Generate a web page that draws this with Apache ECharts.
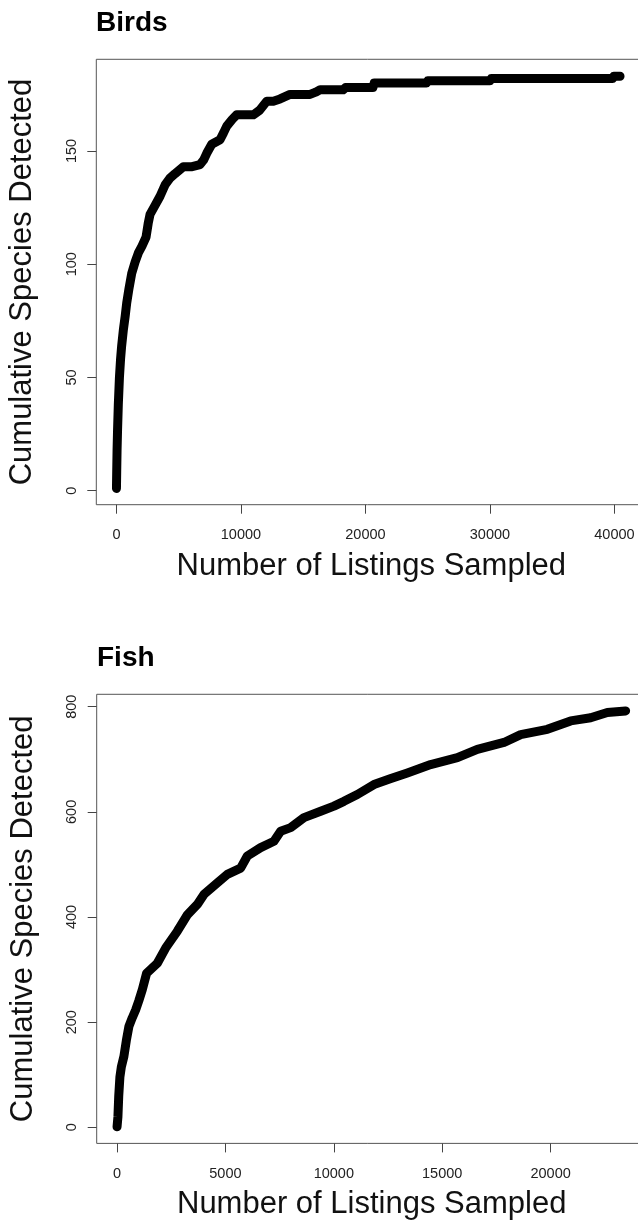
<!DOCTYPE html>
<html>
<head>
<meta charset="utf-8">
<script src="https://cdn.jsdelivr.net/npm/echarts@6/dist/echarts.min.js"></script>
<style>
html,body{margin:0;padding:0;background:#fff;}
#c{width:638px;height:1221px;}
</style>
</head>
<body>
<div id="c"></div>
<script>
// ---- Data ----
var panelTitles = ['Birds', 'Fish'];
var xTitle = 'Number of Listings Sampled';
var yTitle = 'Cumulative Species Detected';

var birdsX = [1, 20, 50, 90, 150, 240, 330, 420, 555, 700, 827, 1000, 1229, 1500, 1760, 2050, 2378, 2550, 2699, 3100, 3502, 3904, 4300, 4707, 5374, 6000, 6715, 7000, 7253, 7654, 8321, 8600, 8860, 9300, 9663, 10996, 11500, 12072, 12600, 13141, 13944, 15550, 16000, 16353, 18200, 18400, 20600, 20700, 24900, 25000, 30000, 30100, 39850, 39950, 40450];
var birdsY = [1, 8, 18, 27, 38, 50, 58, 64, 71, 77, 83, 89, 96, 101, 105, 108, 112, 118, 122, 126, 130, 135, 138, 140, 143, 143, 144, 146, 149, 153, 155, 158, 161, 164, 166, 166, 168, 172, 172, 173, 175, 175, 176, 177, 177, 178, 178, 180, 180, 181, 181, 182, 182, 183, 183];

var fishX = [1, 42, 80, 134, 200, 318, 430, 549, 700, 858, 1000, 1167, 1365, 1600, 1859, 2242, 2782, 3243, 3704, 4009, 4627, 5088, 5702, 6011, 6624, 7238, 7547, 8008, 8622, 9392, 10006, 10467, 11085, 11851, 12600, 13392, 14466, 15698, 16620, 17850, 18618, 19850, 20924, 21847, 22617, 23460];
var fishY = [1, 20, 60, 96, 115, 135, 165, 192, 208, 223, 240, 262, 293, 302, 312, 341, 373, 404, 424, 443, 465, 481, 493, 516, 532, 544, 563, 570, 589, 601, 611, 620, 633, 652, 663, 674, 690, 703, 719, 732, 747, 757, 773, 779, 789, 792];

var birdsXTicks = [0, 10000, 20000, 30000, 40000];
var birdsYTicks = [0, 50, 100, 150];
var fishXTicks = [0, 5000, 10000, 15000, 20000];
var fishYTicks = [0, 200, 400, 600, 800];

// axis extents (R style padding; right edge runs past the picture)
var birdsXRange = [-1618, 42558];
var birdsYRange = [-6.2, 190.5];
var fishXRange = [-937, 24432];
var fishYRange = [-30.6, 823.6];

function pairs(xs, ys) { return xs.map(function (x, i) { return [x, ys[i]]; }); }

var FONT = "'Liberation Sans', Arial, Helvetica, sans-serif";

function xAxisCfg(idx, range, ticks) {
  return {
    type: 'value', gridIndex: idx, min: range[0], max: range[1], position: 'bottom',
    axisLine: { show: false, onZero: false },
    splitLine: { show: false },
    axisTick: { show: true, inside: false, length: 9, customValues: ticks, lineStyle: { color: '#444', width: 1 } },
    axisLabel: { customValues: ticks, margin: 23, fontSize: 14.5, color: '#222', fontFamily: FONT,
      formatter: function (v) { return String(v); } },
    name: xTitle, nameLocation: 'middle', nameGap: 46,
    nameTextStyle: { fontSize: 31, color: '#111', fontFamily: FONT }
  };
}
function yAxisCfg(idx, range, ticks) {
  return {
    type: 'value', gridIndex: idx, min: range[0], max: range[1], position: 'left',
    axisLine: { show: false, onZero: false },
    splitLine: { show: false },
    axisTick: { show: true, inside: false, length: 9, customValues: ticks, lineStyle: { color: '#444', width: 1 } },
    axisLabel: { customValues: ticks, rotate: 90, margin: 17, fontSize: 14.5, color: '#222', fontFamily: FONT,
      formatter: function (v) { return String(v); } },
    name: yTitle, nameLocation: 'middle', nameGap: 58,
    nameTextStyle: { fontSize: 31, color: '#111', fontFamily: FONT }
  };
}

var chart = echarts.init(document.getElementById('c'), null, { renderer: 'canvas' });
chart.setOption({
  animation: false,
  backgroundColor: '#fff',
  title: [
    { text: panelTitles[0], left: 96, top: 9, padding: 0,
      textStyle: { fontSize: 28, fontWeight: 'bold', color: '#000', fontFamily: FONT } },
    { text: panelTitles[1], left: 97, top: 644, padding: 0,
      textStyle: { fontSize: 28, fontWeight: 'bold', color: '#000', fontFamily: FONT } }
  ],
  grid: [
    { left: 96.3, top: 59.3, width: 550, height: 445.4, show: true, borderColor: '#555', borderWidth: 1,
      backgroundColor: 'transparent', containLabel: false, outerBoundsMode: 'none' },
    { left: 96.7, top: 694.3, width: 550, height: 449.1, show: true, borderColor: '#555', borderWidth: 1,
      backgroundColor: 'transparent', containLabel: false, outerBoundsMode: 'none' }
  ],
  xAxis: [xAxisCfg(0, birdsXRange, birdsXTicks), xAxisCfg(1, fishXRange, fishXTicks)],
  yAxis: [yAxisCfg(0, birdsYRange, birdsYTicks), yAxisCfg(1, fishYRange, fishYTicks)],
  series: [
    { type: 'line', xAxisIndex: 0, yAxisIndex: 0, data: pairs(birdsX, birdsY), showSymbol: false,
      lineStyle: { color: '#000', width: 9, cap: 'round', join: 'round' } },
    { type: 'line', xAxisIndex: 1, yAxisIndex: 1, data: pairs(fishX, fishY), showSymbol: false,
      lineStyle: { color: '#000', width: 9, cap: 'round', join: 'round' } }
  ]
});
</script>
</body>
</html>
